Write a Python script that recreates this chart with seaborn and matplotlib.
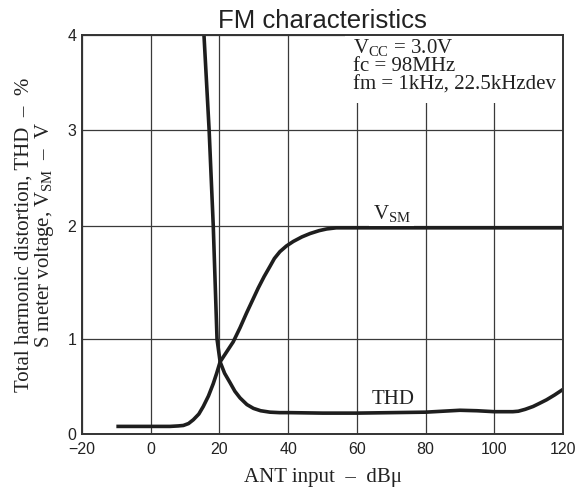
import numpy as np
import pandas as pd
import matplotlib
matplotlib.use("Agg")
import matplotlib.pyplot as plt
import matplotlib.transforms as mtransforms
import seaborn as sns

# ---- data ----
thd_x = [15.5, 17.0, 18.2, 19.3, 20.2, 21.5, 23.1, 24.5, 26.0, 28.0, 29.9, 32.0, 34.7, 37.5, 40.5, 50, 60, 70, 80, 85, 90, 95, 100, 105.4, 107, 109, 111.3, 113, 115.2, 117.5, 120]
thd_y = [4.0, 3.0, 2.0, 1.0, 0.76, 0.64, 0.54, 0.45, 0.38, 0.31, 0.27, 0.245, 0.23, 0.225, 0.225, 0.22, 0.22, 0.225, 0.23, 0.24, 0.25, 0.245, 0.235, 0.235, 0.24, 0.26, 0.29, 0.32, 0.36, 0.41, 0.47]

vsm_x = [-10, 0, 5.6, 8.0, 9.5, 11.0, 12.4, 14.0, 15.3, 16.8, 18.2, 19.2, 20.2, 22.0, 24.0, 26.0, 27.9, 29.6, 31.3, 33.0, 34.7, 36.0, 37.6, 39.5, 41.5, 44.0, 46.4, 49.0, 51.2, 54.0, 58, 80, 100, 120]
vsm_y = [0.08, 0.08, 0.08, 0.085, 0.09, 0.11, 0.15, 0.21, 0.29, 0.40, 0.53, 0.64, 0.76, 0.86, 0.97, 1.10, 1.23, 1.34, 1.45, 1.55, 1.64, 1.71, 1.77, 1.82, 1.86, 1.90, 1.93, 1.955, 1.97, 1.98, 1.98, 1.98, 1.98, 1.98]

x_ticks = [-20, 0, 20, 40, 60, 80, 100, 120]
y_ticks = [0, 1, 2, 3, 4]
# the printed grid is not evenly spaced: pixel heights of each y gridline
y_grid_px = [0, 95, 208.6, 304.3, 399.3]

title = "FM characteristics"
xlabel = "ANT input  –  dBμ"
ylabel = "Total harmonic distortion, THD  –  %\nS meter voltage, V$_{\\mathrm{SM}}$  –  V"
cond_text = "V$_{\\mathrm{CC}}$ = 3.0V\nfc = 98MHz\nfm = 1kHz, 22.5kHzdev"

sns.set_theme(style="white")
plt.rcParams["font.family"] = ["Liberation Sans", "DejaVu Sans"]
plt.rcParams["mathtext.fontset"] = "custom"
plt.rcParams["mathtext.rm"] = "Liberation Serif"
plt.rcParams["mathtext.it"] = "Liberation Serif:italic"
plt.rcParams["mathtext.bf"] = "Liberation Serif:bold"

SERIF = ["Liberation Serif", "DejaVu Serif"]
INK = "#1e1e1e"

fig = plt.figure(figsize=(5.85, 4.88), dpi=100)
ax = fig.add_axes([82 / 585, 1 - 434 / 488, (563 - 82) / 585, (434 - 35) / 488])

thd_df = pd.DataFrame({"x": thd_x, "y": thd_y})
vsm_df = pd.DataFrame({"x": vsm_x, "y": vsm_y})
for df in (thd_df, vsm_df):
    sns.lineplot(data=df, x="x", y="y", ax=ax, color=INK, linewidth=2.6, sort=False, zorder=5)
for ln in ax.get_lines():
    ln.set_solid_joinstyle("round")
    ln.set_solid_capstyle("butt")

# piecewise-linear y scale reproducing the printed grid spacing
kn_d = np.array([-1] + y_ticks + [5], dtype=float)
gp = np.array(y_grid_px, dtype=float)
kn_p = np.concatenate([[gp[0] - (gp[1] - gp[0])], gp, [gp[-1] + (gp[-1] - gp[-2])]])


def fwd(v):
    return np.interp(v, kn_d, kn_p)


def inv(p):
    return np.interp(p, kn_p, kn_d)


ax.set_yscale("function", functions=(fwd, inv))
ax.set_xlim(-20, 120)
ax.set_ylim(0, 4)
ax.set_xticks(x_ticks)
ax.set_yticks(y_ticks)
ax.set_xticklabels(["\u221220" if t < 0 else str(t) for t in x_ticks])
ax.set_yticklabels([str(t) for t in y_ticks])
ax.minorticks_off()
ax.tick_params(axis="both", length=0, labelsize=11.5, colors="#222222")
ax.tick_params(axis="x", pad=6)
ax.tick_params(axis="y", pad=4)

ax.grid(True, color="#3a3a3a", linewidth=0.9, zorder=0)
ax.set_axisbelow(True)
for s in ax.spines.values():
    s.set_color("#333333")
    s.set_linewidth(1.4)
    s.set_zorder(6)

ax.set_title(title, fontsize=18.5, color="#222222", pad=5, family=["Liberation Sans", "DejaVu Sans"])
ax.set_xlabel(xlabel, fontsize=15, family=SERIF, color="#222222", labelpad=8)
ax.set_ylabel(ylabel, fontsize=15, family=SERIF, color="#222222", labelpad=8, linespacing=1.0)

bt = mtransforms.blended_transform_factory(ax.transData, ax.transAxes)
ax.text(58.9, 0.995, cond_text, transform=bt, ha="left", va="top", fontsize=15,
        family=SERIF, color="#222222", linespacing=0.95, zorder=2,
        bbox=dict(facecolor="white", edgecolor="none", pad=6))
ax.text(70.2, 2.13, "V$_{\\mathrm{SM}}$", ha="center", va="center", fontsize=15,
        family=SERIF, color="#222222", zorder=2,
        bbox=dict(facecolor="white", edgecolor="none", pad=2.5))
ax.text(70.5, 0.36, "THD", ha="center", va="center", fontsize=15,
        family=SERIF, color="#222222", zorder=2)

fig.savefig("out.png", dpi=100)
